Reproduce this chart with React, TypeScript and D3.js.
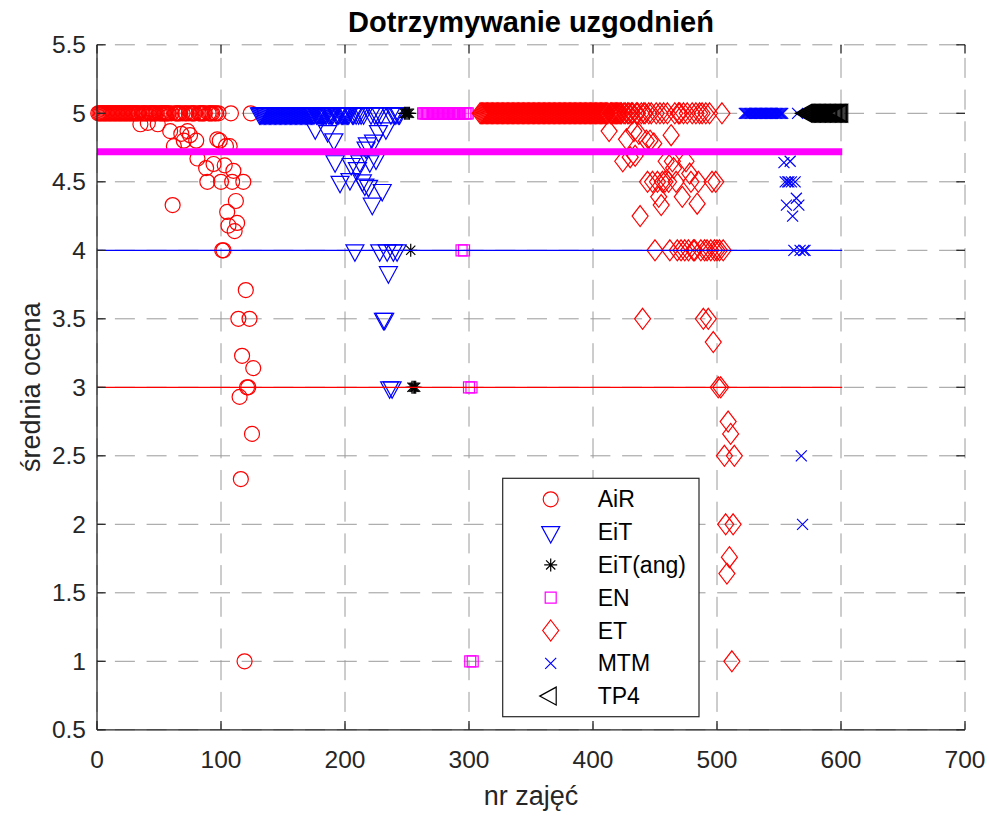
import React from 'react';
import * as d3 from 'd3';

// average score per class session, each group listed in session order
const groups = ['AiR', 'EiT', 'EiT(ang)', 'EN', 'ET', 'MTM', 'TP4'];
const firstSession = [1, 131, 248, 263, 309, 522, 572];

const airScores = [
  5, 5, 5, 5, 5, 5, 5, 5, 5, 5,
  5, 5, 5, 5, 5, 5, 5, 5, 5, 5,
  5, 5, 5, 5, 5, 5, 5, 5, 5, 5,
  5, 5, 5, 5, 4.92, 5, 5, 5, 5, 5,
  4.93, 5, 5, 5, 5, 5, 5, 5, 4.92, 5,
  5, 5, 5, 5, 5, 5, 5, 5, 4.87, 5,
  4.33, 4.76, 5, 5, 5, 5, 5, 4.85, 5, 4.8,
  5, 5, 4.87, 5, 4.84, 5, 5, 5, 5, 4.8,
  4.67, 5, 5, 5, 5, 5, 5, 4.6, 4.5, 5,
  5, 5, 5, 4.63, 5, 5, 4.81, 5, 4.8, 4.5,
  4, 4, 4.62, 4.76, 4.28, 4.18, 4.76, 5, 4.5, 4.58,
  4.14, 4.36, 4.2, 3.5, 2.93, 2.33, 3.23, 4.5, 1, 3.71,
  3, 3, 3.5, 5, 2.66, 3.14,
];
const eitScores = [
  5, 5, 5, 5, 5, 5, 5, 5, 5, 5,
  5, 5, 5, 5, 5, 5, 5, 5, 5, 5,
  5, 5, 5, 5, 5, 5, 5, 5, 5, 5,
  5, 5, 5, 5, 5, 5, 5, 5, 5, 5,
  5, 5, 5, 5, 5, 4.89, 5, 5, 5, 5,
  5, 5, 5, 5, 5, 4.87, 5, 5, 5, 5,
  4.81, 4.65, 5, 5, 5, 4.5, 5, 5, 5, 5,
  5, 5, 5, 4.52, 4.63, 5, 5, 4, 5, 4.6,
  5, 4.65, 5, 4.51, 5, 4.48, 4.75, 4.78, 4.47, 4.65,
  5, 4.34, 4.8, 5, 4.67, 5, 4.87, 4, 5, 4.44,
  3.5, 3.5, 4.89, 4, 3.84, 3, 5, 3, 4, 5,
  5, 4, 5, 5,
];
const eitAngScores = [5, 5, 5, 5, 5, 4, 3, 3, 3, 3];
const enScores = [
  5, 5, 5, 5, 5, 5, 5, 5, 5, 5,
  5, 5, 5, 5, 5, 5, 5, 5, 5, 5,
  5, 5, 5, 5, 5, 5, 5, 5, 5, 5,
  5, 4, 5, 4, 5, 5, 5, 3, 1, 3, 1,
];
const etScores = [
  5, 5, 5, 5, 5, 5, 5, 5, 5, 5,
  5, 5, 5, 5, 5, 5, 5, 5, 5, 5,
  5, 5, 5, 5, 5, 5, 5, 5, 5, 5,
  5, 5, 5, 5, 5, 5, 5, 5, 5, 5,
  5, 5, 5, 5, 5, 5, 5, 5, 5, 5,
  5, 5, 5, 5, 5, 5, 5, 5, 5, 5,
  5, 5, 5, 5, 5, 5, 5, 5, 5, 5,
  5, 5, 5, 5, 5, 5, 5, 5, 5, 5,
  5, 5, 5, 5, 5, 5, 5, 5, 5, 5,
  5, 5, 5, 5, 5, 5, 5, 5, 5, 5,
  5, 5, 5, 5, 4.87, 5, 5, 5, 5, 5,
  5, 5, 5, 5, 5, 4.65, 5, 5, 4.81, 5,
  5, 4.68, 5, 5, 4.87, 4.69, 5, 5, 4.85, 4.25,
  5, 3.5, 5, 5, 4.8, 4.5, 5, 4.8, 5, 4.5,
  4.78, 4, 5, 4.5, 4.39, 5, 4.33, 4.5, 5, 4.5,
  4.65, 5, 4.5, 4, 4.84, 4.65, 4.6, 5, 4.5, 4,
  5, 5, 4, 4.39, 5, 4, 4.65, 5, 4, 4.56,
  4.5, 5, 4, 4, 5, 4.34, 4.5, 5, 4, 5,
  3.5, 4, 5, 4, 3.5, 5, 4, 4.5, 3.33, 4,
  4.5, 4, 3, 4, 3, 5, 4, 2.5, 2, 1.64,
  2.75, 1.76, 2.66, 1, 2, 2.5,
];
const mtmScores = [
  5, 5, 5, 5, 5, 5, 5, 5, 5, 5,
  5, 5, 5, 5, 5, 5, 5, 5, 5, 5,
  5, 5, 5, 5, 5, 5, 5, 5, 5, 5,
  5, 5, 4.64, 4.5, 4.33, 4.5, 4.5, 4.65, 4.5, 4.25,
  4, 4.5, 4.38, 5, 4.33, 4, 2.5, 2, 4, 4,
];
const tp4Scores = [
  5, 5, 5, 5, 5, 5, 5, 5, 5, 5,
  5, 5, 5, 5, 5, 5, 5, 5, 5, 5,
  5, 5, 5, 5, 5, 5, 5, 5, 5, 5,
];
const scores = [airScores, eitScores, eitAngScores, enScores, etScores, mtmScores, tp4Scores];

// reference levels drawn across all sessions
const refLevels = [4.72, 4, 3];
const refSpan = [0, 601];

const xTicks = [0, 100, 200, 300, 400, 500, 600, 700];
const yTicks = [0.5, 1, 1.5, 2, 2.5, 3, 3.5, 4, 4.5, 5, 5.5];

const groupColors = ['#ff0000', '#0000ff', '#000000', '#ff00ff', '#ff0000', '#0000ff', '#000000'];
const groupMarkers = ['o', 'v', '*', 's', 'd', 'x', '<'];
const refColors = ['#ff00ff', '#0000ff', '#ff0000'];
const refWidths = [7, 1.3, 1.3];

const markerPath: Record<string, string> = {
  o: 'M7.5,0A7.5,7.5 0 1,1 -7.5,0A7.5,7.5 0 1,1 7.5,0Z',
  v: 'M-9,-5.5L9,-5.5L0,11Z',
  '*': 'M0,-6.5V6.5M-6.5,0H6.5M-4.6,-4.6L4.6,4.6M-4.6,4.6L4.6,-4.6',
  s: 'M-5.5,-5.5H5.5V5.5H-5.5Z',
  d: 'M0,-10.5L8,0L0,10.5L-8,0Z',
  x: 'M-5.5,-5.5L5.5,5.5M-5.5,5.5L5.5,-5.5',
  '<': 'M-11,0L5.5,-9L5.5,9Z',
};

const W = 989;
const H = 816;
const left = 97, right = 965, top = 44.8, bottom = 729.8;
const font = '"Liberation Sans", Arial, Helvetica, sans-serif';
const axisColor = '#262626';

export default function App() {
  const x = d3.scaleLinear().domain([0, 700]).range([left, right]);
  const y = d3.scaleLinear().domain([0.5, 5.5]).range([bottom, top]);
  const tickLen = 8.7;

  const legendX = 502.7, legendY = 478.3, legendW = 196.3, legendH = 238.4;
  const rowStep = 32.8;

  return (
    <svg width={W} height={H} style={{ position: 'absolute', left: 0, top: 0, background: '#fff' }}
      fontFamily={font}>
      <rect x={0} y={0} width={W} height={H} fill="#ffffff" />

      {/* grid */}
      <g stroke="#9a9a9a" strokeWidth={1} strokeDasharray="20 11.7" strokeDashoffset={13.8}>
        {yTicks.map(t => (
          <line key={'gy' + t} x1={left} x2={right} y1={y(t)} y2={y(t)} />
        ))}
        {xTicks.map(t => (
          <line key={'gx' + t} x1={x(t)} x2={x(t)} y1={bottom} y2={top} />
        ))}
      </g>

      {/* data */}
      {scores.map((vals, g) => (
        <g key={groups[g]} fill="none" stroke={groupColors[g]} strokeWidth={1.2}>
          {vals.map((v, i) => (
            <path key={i} d={markerPath[groupMarkers[g]]}
              transform={`translate(${x(firstSession[g] + i)},${y(v)})`} />
          ))}
        </g>
      ))}

      {refLevels.map((lv, i) => (
        <line key={'ref' + i} x1={x(refSpan[0])} x2={x(refSpan[1])} y1={y(lv)} y2={y(lv)}
          stroke={refColors[i]} strokeWidth={refWidths[i]} />
      ))}

      {/* axes */}
      <g stroke={axisColor} strokeWidth={1.3}>
        <line x1={left} x2={left} y1={top} y2={bottom} />
        <line x1={left} x2={right} y1={bottom} y2={bottom} />
        {xTicks.map(t => (
          <g key={'tx' + t}>
            <line x1={x(t)} x2={x(t)} y1={bottom} y2={bottom - tickLen} />
            <line x1={x(t)} x2={x(t)} y1={top} y2={top + tickLen} />
          </g>
        ))}
        {yTicks.map(t => (
          <g key={'ty' + t}>
            <line x1={left} x2={left + tickLen} y1={y(t)} y2={y(t)} />
            <line x1={right} x2={right - tickLen} y1={y(t)} y2={y(t)} />
          </g>
        ))}
      </g>
      <g fill={axisColor} fontSize={24.5}>
        {xTicks.map(t => (
          <text key={'lx' + t} x={x(t)} y={bottom + 38} textAnchor="middle">{t}</text>
        ))}
        {yTicks.map(t => (
          <text key={'ly' + t} x={left - 11} y={y(t)} textAnchor="end" dominantBaseline="central">{t}</text>
        ))}
      </g>

      <text x={(left + right) / 2} y={32} textAnchor="middle" fontSize={29} fontWeight="bold" fill="#000">
        Dotrzymywanie uzgodnień
      </text>
      <text x={(left + right) / 2} y={805} textAnchor="middle" fontSize={27} fill={axisColor}>nr zajęć</text>
      <text transform={`translate(40,${(top + bottom) / 2}) rotate(-90)`} textAnchor="middle" fontSize={27}
        fill={axisColor}>średnia ocena</text>

      {/* legend */}
      <g>
        <rect x={legendX} y={legendY} width={legendW} height={legendH} fill="#ffffff" stroke={axisColor} strokeWidth={1.2} />
        {groups.map((name, g) => {
          const cy = legendY + 21 + g * rowStep;
          return (
            <g key={'lg' + name}>
              <path d={markerPath[groupMarkers[g]]} transform={`translate(${legendX + 48},${cy})`}
                fill="none" stroke={groupColors[g]} strokeWidth={1.2} />
              <text x={legendX + 95} y={cy} dominantBaseline="central" fontSize={23} fill="#000">{name}</text>
            </g>
          );
        })}
      </g>
    </svg>
  );
}
